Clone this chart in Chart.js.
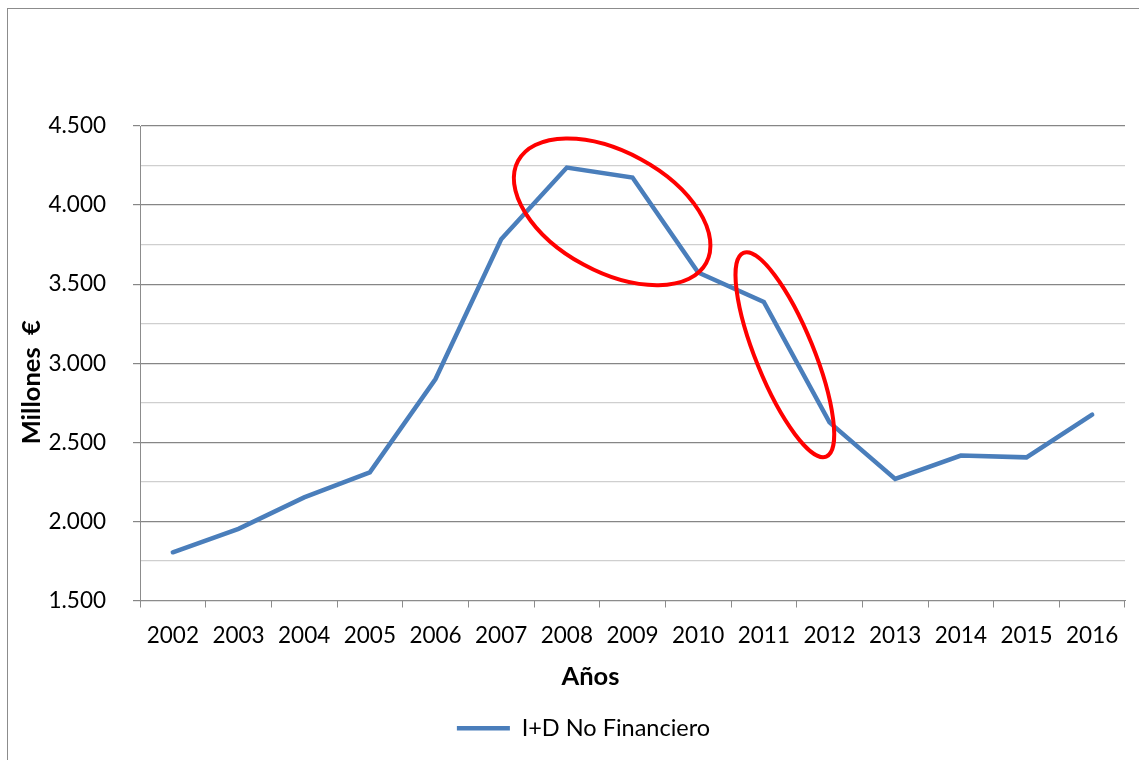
<!DOCTYPE html>
<html lang="es">
<head>
<meta charset="utf-8">
<title>I+D No Financiero</title>
<script src="https://cdn.jsdelivr.net/npm/chart.js@4.4.1/dist/chart.umd.min.js"></script>
<style>
  html, body { margin: 0; padding: 0; background: #fff; overflow: hidden; }
  #frame {
    position: absolute; left: 7px; top: 8px;
    width: 1140px; height: 760px;
    border-left: 1px solid #8c8c8c; border-top: 1px solid #8c8c8c;
    background: #fff;
  }
  #wrap { position: absolute; left: 0; top: 0; width: 1131px; height: 751px; }
</style>
</head>
<body>
<div id="frame"><div id="wrap"><canvas id="chart"></canvas></div></div>
<script>
// Años y gasto en I+D no financiero (millones de euros)
const years = ['2002', '2003', '2004', '2005', '2006', '2007', '2008', '2009',
               '2010', '2011', '2012', '2013', '2014', '2015', '2016'];
const idNoFinanciero = [1805, 1953, 2152, 2310, 2900, 3784, 4237, 4174,
                        3574, 3388, 2626, 2269, 2416, 2405, 2675];
const seriesLabel = 'I+D No Financiero';
const xTitle = 'Años';
const yTitle = 'Millones  €';
const yMin = 1500, yMax = 4500, yStep = 250, yLabelStep = 500;

// Elipses que resaltan las caídas (centro en unidades de los ejes)
const highlights = [
  { xIndex: 6.69, value: 3957, rx: 107, ry: 60, angleDeg: 28.5 },
  { xIndex: 9.32, value: 3054, rx: 110, ry: 29, angleDeg: 67.9 }
];

const FONT = 'Lato, "Open Sans", "DejaVu Sans", sans-serif';
const TICK_SIZE = 22.5;
const TITLE_SIZE = 25.5;
const fmt = v => v.toLocaleString('de-DE');

// Títulos de los ejes y elipses rojas
const overlayPlugin = {
  id: 'overlay',
  afterDatasetsDraw(chart) {
    const { ctx, scales: { x, y } } = chart;
    ctx.save();
    ctx.strokeStyle = '#ff0000';
    ctx.lineWidth = 4;
    highlights.forEach(h => {
      const px = x.getPixelForDecimal((h.xIndex + 0.5) / years.length);
      const py = y.getPixelForValue(h.value);
      ctx.beginPath();
      ctx.ellipse(px, py, h.rx, h.ry, h.angleDeg * Math.PI / 180, 0, Math.PI * 2);
      ctx.stroke();
    });
    ctx.restore();
  },
  afterDraw(chart) {
    const { ctx, chartArea: a } = chart;
    ctx.save();
    ctx.fillStyle = '#000';
    ctx.font = `bold ${TITLE_SIZE}px ${FONT}`;
    ctx.textAlign = 'center';
    ctx.textBaseline = 'alphabetic';
    // "Años" bajo las etiquetas del eje X
    ctx.fillText(xTitle, (a.left + a.right) / 2 - 42, a.bottom + 84);
    // "Millones €" girado junto al eje Y
    ctx.translate(a.left - 100, (a.top + a.bottom) / 2 + 19);
    ctx.rotate(-Math.PI / 2);
    ctx.fillText(yTitle, 0, 0);
    ctx.restore();
  }
};

new Chart(document.getElementById('chart'), {
  type: 'line',
  data: {
    labels: years,
    datasets: [{
      label: seriesLabel,
      data: idNoFinanciero,
      borderColor: '#4a7ebb',
      backgroundColor: '#4a7ebb',
      borderWidth: 4.5,
      borderCapStyle: 'round',
      borderJoinStyle: 'miter',
      pointRadius: 0,
      pointHoverRadius: 0,
      tension: 0,
      fill: false
    }]
  },
  options: {
    responsive: true,
    maintainAspectRatio: false,
    animation: false,
    events: [],
    layout: { padding: { top: 117, right: 14, bottom: 10, left: 34 } },
    plugins: {
      tooltip: { enabled: false },
      legend: {
        position: 'bottom',
        labels: {
          usePointStyle: true,
          pointStyle: 'line',
          pointStyleWidth: 53,
          color: '#000',
          padding: 6,
          font: { family: FONT, size: 23.5 }
        }
      }
    },
    scales: {
      x: {
        type: 'category',
        offset: true,
        afterFit: s => { s.height = 110; },
        grid: {
          offset: true,
          drawOnChartArea: false,
          drawTicks: true,
          tickLength: 7,
          tickColor: '#8c8c8c'
        },
        border: { color: '#8c8c8c', width: 1 },
        ticks: {
          color: '#000',
          padding: 15,
          maxRotation: 0,
          autoSkip: false,
          font: { family: FONT, size: TICK_SIZE }
        }
      },
      y: {
        min: yMin,
        max: yMax,
        afterFit: s => { s.width = 98; },
        ticks: {
          stepSize: yStep,
          color: '#000',
          padding: 27,
          font: { family: FONT, size: TICK_SIZE },
          callback: v => (v % yLabelStep === 0 ? fmt(v) : '')
        },
        grid: {
          drawTicks: true,
          tickLength: 7,
          lineWidth: 1.2,
          color: c => (c.tick && c.tick.value % yLabelStep === 0 ? '#868686' : '#cfcfcf'),
          tickColor: c => (c.tick && c.tick.value % yLabelStep === 0 ? '#868686' : 'rgba(0,0,0,0)')
        },
        border: { color: '#8c8c8c', width: 1 }
      }
    }
  },
  plugins: [overlayPlugin]
});
</script>
</body>
</html>
